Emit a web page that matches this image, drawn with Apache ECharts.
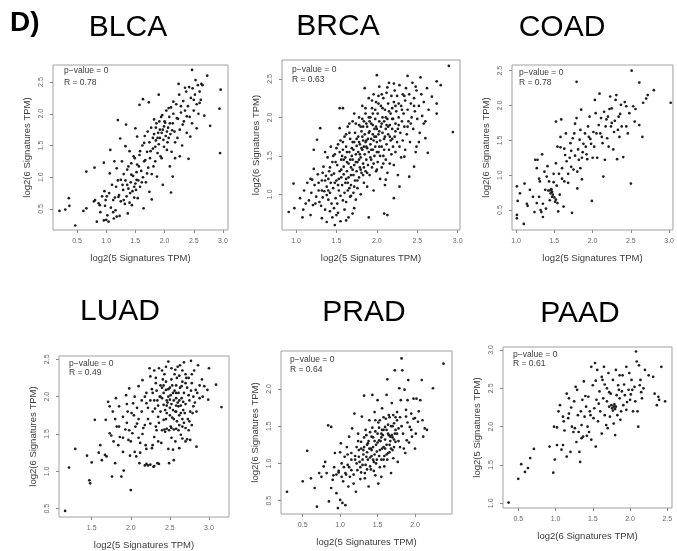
<!DOCTYPE html>
<html>
<head>
<meta charset="utf-8">
<script src="https://cdn.jsdelivr.net/npm/echarts@6/dist/echarts.min.js"></script>
<style>html,body{margin:0;padding:0;background:#fff;}#c{width:677px;height:551px;}</style>
</head>
<body>
<div id="c"></div>
<script>
// ---------- DATA ----------
const panelNames = ['BLCA', 'BRCA', 'COAD', 'LUAD', 'PRAD', 'PAAD'];
const rValues = ['0.78', '0.63', '0.78', '0.49', '0.64', '0.61'];
const pValues = ['0', '0', '0', '0', '0', '0'];
const xAxisNames = ['log2(5 Signatures TPM)', 'log2(5 Signatures TPM)', 'log2(5 Signatures TPM)', 'log2(5 Signatures TPM)', 'log2(5 Signatures TPM)', 'log2(6 Signatures TPM)'];
const yAxisNames = ['log2(6 Signatures TPM)', 'log2(6 Signatures TPM)', 'log2(6 Signatures TPM)', 'log2(6 Signatures TPM)', 'log2(6 Signatures TPM)', 'log2(5 Signatures TPM)'];

const blcaXTicks = [0.5, 1.0, 1.5, 2.0, 2.5, 3.0];
const blcaYTicks = [0.5, 1.0, 1.5, 2.0, 2.5];
const brcaXTicks = [1.0, 1.5, 2.0, 2.5, 3.0];
const brcaYTicks = [1.0, 1.5, 2.0, 2.5];
const coadXTicks = [1.0, 1.5, 2.0, 2.5, 3.0];
const coadYTicks = [0.5, 1.0, 1.5, 2.0, 2.5];
const luadXTicks = [1.5, 2.0, 2.5, 3.0];
const luadYTicks = [0.5, 1.0, 1.5, 2.0, 2.5];
const pradXTicks = [0.5, 1.0, 1.5, 2.0];
const pradYTicks = [0.5, 1.0, 1.5, 2.0];
const paadXTicks = [0.5, 1.0, 1.5, 2.0, 2.5];
const paadYTicks = [1.0, 1.5, 2.0, 2.5, 3.0];

const blcaPoints = [
[0.20,0.47],[0.47,0.24],[0.30,0.49],[0.36,0.67],[0.37,0.55],[0.61,0.47],[0.66,0.51],[0.66,1.09],[0.79,0.62],[0.81,0.64],
[0.80,1.15],[0.84,0.30],[0.87,0.59],[0.89,0.56],[0.96,0.32],[0.96,1.23],[0.97,0.78],[0.99,0.64],[1.00,0.33],[1.04,0.30],
[1.01,0.70],[1.06,1.06],[1.07,1.43],[1.12,0.64],[1.13,0.35],[1.16,0.48],[1.17,0.85],[1.18,1.14],[1.20,1.90],[1.21,0.69],
[1.23,0.39],[1.24,1.61],[1.25,0.96],[1.27,1.25],[1.29,0.80],[1.30,0.64],[1.33,1.49],[1.34,1.83],[1.36,0.88],[1.37,0.43],
[1.38,1.17],[1.40,1.41],[1.41,0.75],[1.43,1.04],[1.44,0.56],[1.47,1.33],[1.48,0.85],[1.50,1.77],[1.52,0.96],[1.53,1.64],
[1.54,0.67],[1.56,1.17],[1.57,2.14],[1.58,1.41],[1.61,0.92],[1.63,2.23],[1.64,0.51],[1.65,1.54],[1.67,1.27],[1.70,1.06],
[1.71,1.72],[1.73,2.18],[1.74,0.77],[1.76,1.41],[1.78,0.65],[1.80,1.62],[1.81,1.17],[1.82,1.91],[1.84,1.48],[1.87,1.01],
[1.90,2.30],[1.92,1.75],[1.93,1.33],[1.96,1.98],[1.97,0.88],[1.98,1.59],[2.01,1.86],[2.04,1.43],[2.07,2.09],[2.09,1.17],
[2.11,0.76],[2.13,1.74],[2.14,1.01],[2.15,2.19],[2.18,1.55],[2.21,1.93],[2.24,2.47],[2.26,1.33],[2.28,2.12],[2.31,1.83],
[2.35,2.41],[2.38,1.96],[2.41,1.29],[2.44,1.64],[2.47,2.69],[2.50,2.22],[2.53,2.53],[2.55,1.77],[2.60,2.17],[2.63,2.47],
[2.68,1.97],[2.73,2.60],[2.78,1.81],[2.94,2.08],[2.96,2.38],[2.95,1.38],
[1.22,0.72],[1.25,0.62],[1.28,0.88],[1.30,1.05],[1.32,0.58],[1.33,0.95],[1.35,0.70],[1.36,1.12],[1.38,0.82],[1.40,0.60],
[1.42,0.92],[1.43,1.22],[1.45,0.78],[1.46,1.02],[1.48,0.68],[1.49,1.30],[1.50,0.90],[1.51,0.80],[1.52,1.08],[1.53,1.20],
[1.55,0.95],[1.57,1.35],[1.58,0.85],[1.60,1.10],[1.62,1.50],[1.63,1.00],[1.65,1.25],[1.66,1.65],[1.68,0.92],[1.70,1.40],
[1.72,1.15],[1.74,1.55],[1.75,1.30],[1.77,1.78],[1.78,1.05],[1.80,1.45],[1.82,1.68],[1.84,1.25],[1.85,1.58],[1.86,1.85],
[1.88,1.38],[1.89,1.70],[1.90,1.52],[1.92,1.62],[1.94,1.95],[1.95,1.30],[1.97,1.75],[1.99,1.48],[2.00,1.88],[2.02,1.65],
[2.03,2.05],[2.05,1.55],[2.06,1.78],[2.08,1.95],[2.10,1.68],[2.11,2.10],[2.12,1.40],[2.14,1.85],[2.15,2.00],[2.17,1.72],
[2.18,1.30],[2.20,2.15],[2.22,1.62],[2.23,1.92],[2.25,2.30],[2.26,1.75],[2.28,2.02],[2.30,1.50],[2.32,2.20],[2.33,1.88],
[2.35,2.05],[2.37,2.35],[2.38,1.70],[2.40,2.12],[2.42,2.42],[2.43,1.95],[2.45,2.25],[2.47,1.85],[2.48,2.40],[2.50,2.05],
[2.52,2.30],[2.55,2.15],[2.57,2.45],[2.58,2.00],[2.60,2.35],[2.62,2.22],[2.65,2.45],
[0.90,0.45],[0.93,0.70],[0.98,0.55],[1.02,0.40],[1.05,0.75],[1.08,0.52],[1.10,0.88],[1.12,0.45],[1.15,0.68],[1.18,0.38],
[1.20,0.95],[1.14,1.25],[1.85,1.78],[1.88,1.62],[1.95,1.70],[1.99,1.80],[2.04,1.72],[2.07,1.62],[2.09,1.85],[1.91,1.88]
];

const brcaPoints = [
[0.91,0.77],[0.98,0.82],[0.97,1.14],[1.09,0.80],[1.18,0.73],[1.20,1.19],[1.22,1.58],[1.26,1.71],[1.30,1.86],[1.24,0.88],
[1.32,0.69],[1.38,0.64],[1.48,0.60],[1.50,0.73],[1.54,2.12],[1.58,2.12],[1.70,0.75],[1.90,0.70],[2.09,0.75],[2.13,0.73],
[2.00,2.55],[2.38,2.54],[2.54,2.52],[2.63,1.54],[2.74,2.47],[2.79,2.42],[2.89,2.67],[2.94,1.81],[2.68,2.27],[2.74,2.18],
[2.74,2.05],[2.58,1.92],[2.60,1.73],[2.49,1.62],[2.46,1.36],[2.40,1.23],[2.28,1.10],[2.34,1.49],[2.21,0.95],[2.11,1.19],
[2.21,2.44],[2.13,2.39],[2.48,2.40],
[1.16,0.92],[1.19,1.02],[1.21,0.86],[1.23,1.12],[1.25,0.97],[1.27,1.26],[1.28,1.05],[1.29,0.90],[1.22,1.33],[1.18,1.20],
[1.31,0.85],[1.32,1.18],[1.33,0.96],[1.34,1.36],[1.35,1.04],[1.36,0.80],[1.37,1.24],[1.38,1.10],[1.39,1.48],[1.40,0.93],
[1.41,1.30],[1.42,1.02],[1.43,1.15],[1.44,0.88],[1.45,1.42],[1.33,1.28],[1.36,1.55],[1.40,1.20],[1.43,1.62],[1.38,0.99],
[1.46,1.08],[1.47,0.82],[1.47,1.27],[1.48,1.52],[1.49,0.95],[1.50,1.18],[1.51,1.38],[1.51,0.88],[1.52,1.65],[1.53,1.05],
[1.54,1.30],[1.54,1.86],[1.55,0.98],[1.56,1.45],[1.56,1.22],[1.57,1.12],[1.58,1.58],[1.58,0.92],[1.59,1.36],[1.60,1.75],
[1.60,1.02],[1.49,1.42],[1.53,1.20],[1.57,1.50],[1.55,1.70],[1.59,1.26],
[1.61,1.15],[1.61,1.48],[1.62,0.90],[1.62,1.62],[1.63,1.30],[1.64,1.05],[1.64,1.88],[1.65,1.40],[1.65,1.22],[1.66,1.55],
[1.67,0.97],[1.67,1.72],[1.68,1.35],[1.68,1.12],[1.69,1.60],[1.70,1.45],[1.70,1.95],[1.71,1.25],[1.71,1.02],[1.72,1.68],
[1.72,1.38],[1.73,1.80],[1.73,1.18],[1.74,1.52],[1.74,0.93],[1.75,1.63],[1.75,1.30],[1.66,1.80],[1.69,1.50],[1.63,1.42],
[1.72,2.05],[1.68,1.25],
[1.76,1.42],[1.76,1.08],[1.77,1.75],[1.77,1.55],[1.78,1.22],[1.78,1.90],[1.79,1.35],[1.79,1.65],[1.80,1.00],[1.80,1.48],
[1.81,1.82],[1.81,1.28],[1.82,2.15],[1.82,1.58],[1.83,1.40],[1.83,1.70],[1.84,1.15],[1.84,1.95],[1.85,1.52],[1.85,1.78],
[1.86,1.30],[1.86,2.05],[1.87,1.62],[1.87,1.45],[1.88,1.88],[1.88,1.10],[1.89,1.72],[1.89,1.38],[1.90,2.25],[1.90,1.55],
[1.78,1.68],[1.80,1.88],[1.83,1.25],[1.86,1.68],[1.88,1.60],[1.85,2.38],[1.81,1.60],
[1.91,1.82],[1.91,1.25],[1.92,1.65],[1.92,2.00],[1.93,1.45],[1.93,1.72],[1.94,2.12],[1.94,1.35],[1.95,1.90],[1.95,1.58],
[1.96,1.05],[1.96,2.30],[1.97,1.75],[1.97,1.50],[1.98,1.98],[1.98,1.62],[1.99,1.30],[1.99,2.20],[2.00,1.85],[2.00,1.68],
[2.01,1.42],[2.01,2.05],[2.02,1.78],[2.02,1.55],[2.03,1.95],[2.03,2.40],[2.04,1.20],[2.04,1.70],[2.05,2.15],[2.05,1.88],
[1.93,1.92],[1.97,1.85],[2.00,1.55],[1.95,1.78],[2.02,2.28],
[2.06,1.62],[2.06,1.35],[2.07,2.00],[2.07,1.80],[2.08,2.25],[2.08,1.50],[2.09,1.72],[2.09,1.95],[2.10,1.12],[2.10,2.10],
[2.11,1.85],[2.11,1.45],[2.12,2.32],[2.12,1.65],[2.13,1.98],[2.13,1.28],[2.14,1.78],[2.14,2.18],[2.15,1.58],[2.15,2.45],
[2.16,1.90],[2.16,1.40],[2.17,2.05],[2.17,1.70],[2.18,2.28],[2.18,1.52],[2.19,1.85],[2.19,2.12],[2.20,1.62],[2.20,1.98],
[2.10,1.75],[2.14,1.88],
[2.21,1.38],[2.21,2.20],[2.22,1.75],[2.22,2.35],[2.23,1.92],[2.23,1.55],[2.24,2.08],[2.25,1.68],[2.25,2.28],[2.26,1.85],
[2.26,1.25],[2.27,2.00],[2.28,1.62],[2.28,2.42],[2.29,1.80],[2.30,2.15],[2.30,1.48],[2.31,1.95],[2.32,2.30],[2.32,1.70],
[2.33,2.05],[2.34,1.88],[2.35,2.22],[2.35,1.58],
[2.36,2.38],[2.37,1.78],[2.38,2.10],[2.39,1.95],[2.40,2.30],[2.41,1.68],[2.42,2.18],[2.43,2.00],[2.44,2.45],[2.45,1.85],
[2.46,2.25],[2.47,2.08],[2.48,1.55],[2.49,2.35],[2.50,1.98],
[2.52,2.15],[2.53,1.80],[2.55,2.30],[2.56,2.02],[2.58,2.20],[2.60,1.95],[2.62,2.38],[2.64,2.10],[2.52,1.68],
[1.05,0.95],[1.10,1.05],[1.12,0.88],[1.14,1.15],[1.08,0.70],
[1.45,0.70],[1.52,0.76],[1.60,0.80],[1.65,0.70],[1.72,0.82],[1.55,0.65],[1.42,0.78],[1.62,0.66],
[1.62,1.20],[1.66,1.08],[1.70,1.32],[1.74,1.42],[1.78,1.45],[1.82,1.75],[1.84,1.62],[1.87,1.92],[1.90,1.80],[1.93,1.58],
[1.96,1.70],[1.99,1.88],[2.03,1.62],[2.06,1.92],[2.09,1.58],[2.12,1.90],[2.16,1.75],[2.19,1.98],[2.23,2.15],[2.27,1.90],
[2.31,2.10],[2.34,2.28],[2.38,1.88],[2.42,1.92],[2.46,2.15],[1.52,1.12],[1.56,1.32],[1.59,1.45],[1.63,1.55],[1.67,1.45],
[1.71,1.58],[1.75,1.72],[1.79,1.52],[1.83,1.88],[1.87,1.70],[1.91,1.95],[1.95,2.05],[1.99,1.75],[2.03,1.82],[2.07,2.12],
[2.11,2.00],[2.15,2.08],[2.19,1.72],[2.23,1.82],[2.27,2.18],[1.48,1.15],[1.44,1.25],[1.40,1.05],[1.36,1.18],[1.32,1.05],
[1.28,1.15],[1.42,1.35],[1.46,1.50],[1.50,1.60],[1.54,1.55],[1.58,1.68],[1.62,1.78],[1.66,1.92],[1.70,1.68],[1.74,1.92],
[1.78,2.00],[1.82,1.98],[1.86,2.12],[1.90,2.00],[1.94,2.22],[1.98,2.10],[2.02,2.18],[2.06,2.30],[1.76,1.18],[1.80,1.32],
[1.84,1.35],[1.88,1.28],[1.92,1.48],[1.96,1.40],[2.00,1.32],[2.04,1.50],[2.08,1.40],[1.72,1.10],[1.68,0.98],[1.64,1.15]
];

const coadPoints = [
[1.01,0.84],[1.02,0.63],[1.01,0.43],[1.01,0.38],[1.05,0.74],[1.10,0.30],[1.11,0.88],[1.14,0.59],[1.15,0.56],[1.18,0.79],
[1.22,0.69],[1.24,0.47],[1.25,1.22],[1.27,1.10],[1.28,1.22],[1.30,0.95],[1.30,0.69],[1.31,0.91],[1.33,0.47],[1.34,1.30],
[1.35,0.40],[1.35,0.59],[1.37,1.05],[1.38,0.79],[1.39,0.52],[1.41,1.13],[1.42,0.78],[1.43,0.91],[1.44,0.64],[1.45,0.74],
[1.46,0.79],[1.47,0.69],[1.49,1.02],[1.49,0.90],[1.51,0.62],[1.52,1.77],[1.52,1.17],[1.54,1.41],[1.55,0.48],[1.56,1.02],
[1.57,0.72],[1.58,1.55],[1.59,1.80],[1.60,1.10],[1.62,0.55],[1.63,0.91],[1.64,1.29],[1.65,1.60],[1.68,0.89],[1.68,1.02],
[1.71,1.46],[1.72,1.12],[1.73,0.46],[1.74,1.53],[1.75,1.08],[1.77,1.74],[1.79,2.34],[1.79,1.82],[1.80,0.81],[1.81,1.37],
[1.82,1.22],[1.83,1.51],[1.84,1.10],[1.85,1.94],[1.86,0.94],[1.87,1.33],[1.90,1.60],[1.91,1.41],[1.93,1.23],[1.94,1.70],
[1.96,1.84],[1.97,1.52],[1.99,0.63],[2.00,1.25],[2.01,1.62],[2.02,1.41],[2.04,1.89],[2.06,1.25],[2.09,2.17],[2.10,1.60],
[2.11,1.82],[2.13,1.46],[2.14,0.98],[2.15,1.91],[2.16,1.22],[2.17,1.70],[2.19,1.53],[2.20,1.84],[2.21,1.41],[2.23,2.13],
[2.24,1.70],[2.25,1.96],[2.27,1.37],[2.28,1.62],[2.30,2.08],[2.31,2.15],[2.32,1.23],[2.34,1.84],[2.35,1.55],[2.37,2.01],
[2.38,1.70],[2.40,1.26],[2.44,1.70],[2.44,1.99],[2.48,1.89],[2.51,2.50],[2.50,0.88],[2.53,1.99],[2.55,1.77],[2.56,1.95],
[2.61,2.33],[2.61,1.72],[2.65,1.55],[2.66,2.04],[2.70,2.10],[2.72,2.15],[2.80,2.22],[3.02,2.04],
[1.58,1.40],[1.63,1.38],[1.70,1.25],[1.77,1.28],[1.88,1.45],[1.95,1.55],[2.05,1.60],[2.08,1.72],[1.86,1.25],[1.80,1.05],
[2.18,1.80],[2.25,1.75],[2.33,1.65],[1.47,0.76],[1.48,0.72],[1.50,0.68],[1.52,0.65],[1.54,0.60],[1.46,0.80],[1.44,0.78],
[1.27,0.60],[1.32,0.50],[1.40,0.98],[1.53,0.85],[1.60,0.95],[1.66,1.20],[1.72,1.35],[1.92,1.30],[1.98,1.45],[2.12,1.55],
[2.22,1.95],[2.29,1.78],[2.36,1.88],[2.42,2.05],[2.46,1.60],[1.84,1.65],[1.76,1.60],[2.03,2.08]
];

const luadPoints = [
[1.16,0.47],[1.21,1.05],[1.29,1.30],[1.44,1.21],[1.47,0.88],[1.48,0.84],[1.50,1.12],[1.54,1.69],[1.59,1.25],[1.61,1.35],
[1.63,1.15],[1.67,1.22],[1.68,1.69],[1.69,1.20],[1.71,1.93],[1.73,1.51],[1.73,1.87],[1.76,0.93],[1.77,1.80],[1.78,1.40],
[1.80,1.11],[1.81,1.98],[1.82,1.60],[1.84,1.35],[1.85,1.87],[1.86,1.46],[1.88,0.93],[1.90,1.73],[1.90,1.26],[1.91,1.01],
[1.93,1.56],[1.94,2.02],[1.97,1.42],[1.98,2.11],[1.99,1.21],[2.00,0.75],[2.01,1.78],[2.02,1.51],[2.03,1.91],[2.05,1.26],
[2.08,1.64],[2.10,2.14],[2.11,1.11],[2.12,1.38],[2.14,1.80],[2.16,1.58],[2.18,1.08],[2.19,1.35],[2.20,1.91],[2.22,1.08],
[2.24,2.38],[2.25,1.64],[2.25,2.27],[2.27,1.31],[2.28,2.05],[2.29,1.06],[2.30,1.46],[2.31,1.84],[2.32,2.18],[2.33,1.55],
[2.34,1.11],[2.35,1.73],[2.36,2.38],[2.37,2.00],[2.39,1.38],[2.41,2.23],[2.42,1.69],[2.42,1.89],[2.44,1.53],[2.45,2.09],
[2.46,1.78],[2.48,2.47],[2.49,1.11],[2.50,1.96],[2.51,1.60],[2.52,2.23],[2.54,1.29],[2.54,1.82],[2.55,1.15],[2.57,2.36],
[2.58,2.05],[2.59,1.67],[2.61,1.87],[2.62,1.31],[2.63,2.42],[2.64,1.49],[2.65,2.14],[2.66,1.60],[2.67,1.93],[2.68,2.46],
[2.69,1.78],[2.71,2.25],[2.72,1.43],[2.74,2.02],[2.75,1.67],[2.76,1.42],[2.77,2.48],[2.78,2.18],[2.80,1.87],[2.81,2.35],
[2.83,2.09],[2.84,1.33],[2.86,2.42],[2.88,1.98],[2.91,2.23],[2.94,2.14],[2.98,2.09],[2.99,1.96],[3.00,2.38],[3.09,2.16],
[3.16,1.86],
[2.30,1.95],[2.33,2.08],[2.35,1.88],[2.38,2.15],[2.40,1.98],[2.42,2.05],[2.44,1.82],[2.45,2.20],[2.47,1.92],[2.48,2.10],
[2.50,1.85],[2.51,2.02],[2.52,1.90],[2.53,2.15],[2.55,1.95],[2.56,2.08],[2.57,1.80],[2.58,1.98],[2.59,2.25],[2.60,1.92],
[2.61,2.05],[2.62,1.75],[2.63,2.12],[2.64,1.88],[2.65,1.98],[2.66,2.20],[2.67,1.82],[2.68,2.05],[2.70,1.90],[2.72,2.12],
[2.73,1.70],[2.75,1.95],[2.77,2.08],[2.79,1.78],[2.82,1.92],[2.85,2.05],[2.43,1.56],[2.46,1.57],[2.49,1.55],[2.52,1.58],
[2.55,1.56],[2.58,1.57],[2.61,1.55],[2.66,1.44],[2.70,1.40],[2.20,1.10],[2.25,1.09],[2.30,1.07],[2.36,1.10],[2.40,1.55],
[2.36,1.65],[2.28,1.80],[2.25,1.95],[2.22,1.70],[2.18,1.62],[2.15,1.50],[2.10,1.45],[2.06,1.60],[2.00,1.40],[1.95,1.65],
[2.27,2.10],[2.32,2.25],[2.40,2.35],[2.45,1.70],[2.50,1.75],[2.55,1.70],[2.62,1.62],[2.68,1.65],[2.74,1.55],[2.78,1.62],
[2.52,1.45],[2.57,1.40],[2.48,1.30],[2.35,1.40],[2.28,1.35],[2.20,1.30],[2.12,1.25],[2.07,1.20],[1.98,1.55],[1.90,1.45],
[1.85,1.60],[1.80,1.70],[1.75,1.48],[2.15,2.22],[2.20,2.05],[2.05,2.00],[1.95,1.90],[2.08,1.85],[2.43,2.30],[2.56,2.30],
[2.70,2.30],[2.60,2.40],[2.48,2.00],[2.53,1.72],[2.64,1.78],[2.38,1.80],[2.46,1.95],[2.58,1.88],[2.40,2.12],[2.32,1.60],
[2.45,2.40],[2.52,2.38],[2.58,2.15],[2.62,2.28],[2.66,2.35],[2.70,2.18],[2.74,2.25],[2.78,2.30],[2.80,2.00],[2.84,1.80],
[2.88,2.15],[2.92,2.00],[2.30,2.35],[2.34,1.95],[2.38,2.00],[2.42,2.15],[2.46,1.88],[2.50,2.12],[2.54,2.05],[2.58,1.80],
[2.62,1.95],[2.66,1.70],[2.70,1.58],[2.76,1.80],[2.22,1.85],[2.18,2.00],[2.14,1.95],[2.10,1.70],[2.04,1.75],[1.96,1.80]
];

const pradPoints = [
[0.29,0.62],[0.50,0.76],[0.56,1.17],[0.61,0.80],[0.66,0.67],[0.69,0.42],[0.72,0.87],[0.75,0.82],[0.78,0.96],[0.80,1.02],
[0.82,0.87],[0.84,1.51],[0.85,0.49],[0.88,1.49],[0.88,0.67],[0.90,0.78],[0.91,0.84],[0.93,1.14],[0.95,0.60],[0.97,0.40],
[0.98,0.88],[1.00,0.51],[1.01,1.27],[1.02,1.00],[1.03,0.47],[1.04,0.76],[1.06,1.09],[1.07,0.44],[1.07,0.87],[1.09,1.22],
[1.10,0.98],[1.11,0.69],[1.12,1.36],[1.13,0.82],[1.15,1.14],[1.15,0.91],[1.16,1.47],[1.18,0.73],[1.19,1.67],[1.20,1.05],
[1.21,0.62],[1.22,1.22],[1.23,0.91],[1.24,1.40],[1.25,1.09],[1.27,0.79],[1.28,1.29],[1.29,1.63],[1.30,0.98],[1.31,1.18],
[1.32,1.91],[1.33,0.87],[1.34,1.45],[1.35,1.09],[1.37,1.27],[1.38,0.69],[1.39,1.58],[1.40,0.96],[1.41,1.20],[1.42,1.36],
[1.43,1.92],[1.44,1.05],[1.46,1.69],[1.47,0.84],[1.47,1.43],[1.49,1.16],[1.50,1.85],[1.51,0.73],[1.52,1.31],[1.53,1.58],
[1.55,1.05],[1.55,1.40],[1.56,1.74],[1.58,1.22],[1.59,0.96],[1.60,1.49],[1.62,1.92],[1.63,2.13],[1.64,1.14],[1.65,1.65],
[1.67,1.36],[1.68,0.87],[1.69,1.81],[1.71,1.07],[1.72,1.54],[1.73,2.25],[1.74,1.29],[1.76,1.69],[1.77,1.02],[1.78,1.47],
[1.79,2.01],[1.80,1.22],[1.81,1.85],[1.82,2.41],[1.83,2.25],[1.84,1.40],[1.86,1.99],[1.87,1.14],[1.88,1.63],[1.89,1.31],
[1.90,1.85],[1.91,2.12],[1.93,1.49],[1.95,1.67],[1.96,1.36],[1.98,1.87],[2.00,1.61],[2.01,1.40],[2.02,1.87],[2.04,1.56],
[2.07,1.85],[2.09,2.12],[2.11,1.36],[2.13,1.47],[2.16,1.45],[2.24,2.01],[2.38,2.34],
[1.20,1.10],[1.22,1.00],[1.25,1.18],[1.27,0.95],[1.30,1.05],[1.32,1.22],[1.34,0.98],[1.36,1.15],[1.38,1.30],[1.40,1.08],
[1.42,1.18],[1.44,1.35],[1.46,1.12],[1.48,1.25],[1.50,1.40],[1.52,1.10],[1.54,1.30],[1.56,1.20],[1.58,1.45],[1.60,1.32],
[1.62,1.25],[1.64,1.40],[1.66,1.15],[1.68,1.50],[1.70,1.35],[1.72,1.22],[1.74,1.45],[1.76,1.58],[1.78,1.30],[1.80,1.62],
[1.35,1.38],[1.37,1.05],[1.39,1.20],[1.41,0.92],[1.43,1.48],[1.45,1.02],[1.47,1.58],[1.49,1.05],[1.51,1.55],[1.53,0.95],
[1.55,1.35],[1.57,1.38],[1.59,1.10],[1.61,1.60],[1.63,1.05],[1.65,1.38],[1.67,1.30],[1.69,1.38],[1.71,1.65],[1.73,1.40],
[1.15,1.05],[1.12,0.95],[1.10,1.12],[1.08,0.85],[1.05,0.95],[1.02,0.82],[0.98,0.90],[0.95,0.85],[0.92,0.95],[1.00,1.15],
[1.18,0.85],[1.28,0.88],[1.33,0.80],[1.45,0.90],[1.55,0.82],[1.85,1.20],[1.90,1.55],[1.95,1.45],[2.00,1.20],[1.82,1.50],
[1.88,1.72],[1.92,1.28],[2.05,1.70],[2.10,1.58],[1.98,1.60],[1.26,1.02],[1.31,1.12],[1.36,0.92],[1.42,1.10],[1.48,1.00],
[1.53,1.18],[1.58,1.05],[1.62,1.12],[1.66,1.25],[1.70,1.18],
[1.44,1.22],[1.50,1.28],[1.56,1.45],[1.60,1.20],[1.64,1.52],[1.68,1.20],[1.72,1.32],[1.76,1.40],[1.40,1.42],[1.36,1.25],
[1.32,1.35],[1.28,1.20],[1.24,1.30],[1.46,1.30],[1.52,1.48],[1.58,1.62],[1.62,1.45],[1.66,1.62],[1.70,1.50],[1.74,1.62]
];

const paadPoints = [
[0.37,1.01],[0.50,1.32],[0.54,1.51],[0.59,1.41],[0.63,1.46],[0.66,1.59],[0.71,1.71],[0.92,1.74],[0.97,1.40],[0.99,1.57],
[0.98,2.00],[1.02,1.99],[1.02,1.76],[1.04,2.20],[1.06,2.28],[1.08,1.70],[1.10,1.76],[1.10,2.13],[1.11,2.07],[1.15,2.43],
[1.15,1.61],[1.17,2.11],[1.18,2.17],[1.18,2.37],[1.20,1.67],[1.22,2.00],[1.24,1.93],[1.25,2.33],[1.26,1.98],[1.27,2.52],
[1.28,1.80],[1.29,2.48],[1.31,1.93],[1.32,1.67],[1.33,1.54],[1.34,2.20],[1.35,2.02],[1.36,2.35],[1.37,1.87],[1.38,2.59],
[1.39,2.13],[1.41,2.26],[1.43,2.00],[1.44,2.39],[1.45,1.93],[1.46,2.20],[1.48,2.78],[1.48,1.83],[1.50,2.54],[1.51,2.11],
[1.52,2.24],[1.53,2.83],[1.54,1.74],[1.55,2.35],[1.56,2.74],[1.57,2.07],[1.59,2.46],[1.60,2.20],[1.62,1.91],[1.63,2.61],
[1.64,2.37],[1.65,2.78],[1.66,2.15],[1.68,2.02],[1.69,2.50],[1.69,2.33],[1.71,2.70],[1.72,2.26],[1.73,2.13],[1.74,2.43],
[1.75,2.28],[1.77,2.61],[1.78,2.26],[1.78,2.04],[1.80,1.89],[1.81,2.74],[1.82,2.41],[1.83,2.15],[1.84,2.54],[1.86,2.67],
[1.86,2.37],[1.87,2.09],[1.89,2.46],[1.90,2.67],[1.91,2.28],[1.93,2.41],[1.95,2.78],[1.95,2.22],[1.98,2.48],[1.99,2.70],
[2.00,2.35],[2.02,2.61],[2.03,2.48],[2.04,2.20],[2.07,2.33],[2.08,2.98],[2.09,2.85],[2.10,2.20],[2.11,2.00],[2.12,2.80],
[2.13,2.54],[2.14,2.61],[2.16,2.37],[2.18,2.50],[2.20,2.74],[2.25,2.67],[2.31,2.65],[2.33,2.43],[2.36,2.28],[2.38,2.39],
[2.39,2.35],[2.42,2.78],[2.47,2.33],[1.81,2.26],[1.76,2.24],[1.79,2.29],[1.77,2.21],[1.80,2.23],
[1.40,2.40],[1.47,2.15],[1.58,2.30],[1.66,2.55],[1.72,2.45],[1.85,2.48],[1.92,2.55],[2.01,2.42],[2.06,2.52],[1.30,2.15],
[1.42,1.88],[1.21,2.25],[1.12,1.95],[1.54,2.60],[1.62,2.65],[2.15,2.45],[1.96,2.32],[1.88,2.20],[1.70,1.98],[1.35,1.85]
];

// ---------- LAYOUT ----------
const layouts = [
  {grid:{left:53, top:65, width:175, height:165}, x:[0.089,3.086], y:[0.169,2.768], title:[128,28], stat:[64,71,83]},
  {grid:{left:282, top:60, width:178, height:170}, x:[0.827,3.028], y:[0.536,2.747], title:[338,27], stat:[292,70,80]},
  {grid:{left:512, top:65, width:168, height:165}, x:[0.946,3.05], y:[0.213,2.582], title:[562,28], stat:[519,73,83]},
  {grid:{left:59, top:356, width:170, height:161}, x:[1.082,3.256], y:[0.389,2.544], title:[120,312], stat:[69,364,373]},
  {grid:{left:281, top:351, width:171, height:163}, x:[0.210,2.494], y:[0.321,2.510], title:[364,313], stat:[290,360,370]},
  {grid:{left:503, top:347, width:169, height:161}, x:[0.295,2.563], y:[0.939,3.039], title:[580,314], stat:[513,355,364]}
];
const pointSets = [blcaPoints, brcaPoints, coadPoints, luadPoints, pradPoints, paadPoints];
const xTickSets = [blcaXTicks, brcaXTicks, coadXTicks, luadXTicks, pradXTicks, paadXTicks];
const yTickSets = [blcaYTicks, brcaYTicks, coadYTicks, luadYTicks, pradYTicks, paadYTicks];

const FONT = '"Liberation Sans", Arial, Helvetica, sans-serif';
const grids = [], xAxes = [], yAxes = [], series = [], graphics = [];
const fmt = v => Number(v).toFixed(1);

layouts.forEach((L, i) => {
  grids.push(Object.assign({show:true, borderColor:'#a0a0a0', borderWidth:1, backgroundColor:'transparent'}, L.grid));
  xAxes.push({
    type:'value', gridIndex:i, min:L.x[0], max:L.x[1],
    axisLine:{show:false}, splitLine:{show:false},
    axisTick:{show:true, inside:false, length:3, customValues:xTickSets[i], lineStyle:{color:'#888', width:1}},
    axisLabel:{show:true, customValues:xTickSets[i], formatter:fmt, fontSize:7, color:'#666', margin:8, fontFamily:FONT},
    name:xAxisNames[i], nameLocation:'middle', nameGap:23,
    nameTextStyle:{fontSize:9.5, color:'#3a3a3a', fontFamily:FONT}
  });
  yAxes.push({
    type:'value', gridIndex:i, min:L.y[0], max:L.y[1],
    axisLine:{show:false}, splitLine:{show:false},
    axisTick:{show:true, inside:false, length:3, customValues:yTickSets[i], lineStyle:{color:'#888', width:1}},
    axisLabel:{show:true, customValues:yTickSets[i], formatter:fmt, fontSize:7, color:'#666', margin:8, rotate:90, fontFamily:FONT},
    name:yAxisNames[i], nameLocation:'middle', nameGap:21, nameRotate:90,
    nameTextStyle:{fontSize:9.5, color:'#3a3a3a', fontFamily:FONT}
  });
  series.push({
    type:'scatter', xAxisIndex:i, yAxisIndex:i, data:pointSets[i],
    symbol:'circle', symbolSize:2.7, itemStyle:{color:'#1e1e1e', opacity:1},
    silent:true, animation:false, clip:true
  });
  graphics.push({
    type:'text', x:L.title[0], y:L.title[1], silent:true,
    style:{text:panelNames[i], fill:'#000', font:'normal 30px ' + FONT, textAlign:'center', textVerticalAlign:'middle', align:'center', verticalAlign:'middle'}
  });
  graphics.push({
    type:'text', x:L.stat[0], y:L.stat[1], silent:true,
    style:{text:'p\u2212value = ' + pValues[i], fill:'#3a3a3a', font:'normal 8.5px ' + FONT, textAlign:'left', textVerticalAlign:'middle', align:'left', verticalAlign:'middle'}
  });
  graphics.push({
    type:'text', x:L.stat[0], y:L.stat[2], silent:true,
    style:{text:'R = ' + rValues[i], fill:'#3a3a3a', font:'normal 8.5px ' + FONT, textAlign:'left', textVerticalAlign:'middle', align:'left', verticalAlign:'middle'}
  });
});
graphics.push({
  type:'text', x:10, y:23, silent:true,
  style:{text:'D)', fill:'#000', font:'bold 28px ' + FONT, textAlign:'left', textVerticalAlign:'middle', align:'left', verticalAlign:'middle'}
});

const chart = echarts.init(document.getElementById('c'), null, {renderer:'canvas'});
chart.setOption({
  backgroundColor:'#fff',
  animation:false,
  grid:grids, xAxis:xAxes, yAxis:yAxes, series:series,
  graphic:{elements:graphics}
});
</script>
</body>
</html>
